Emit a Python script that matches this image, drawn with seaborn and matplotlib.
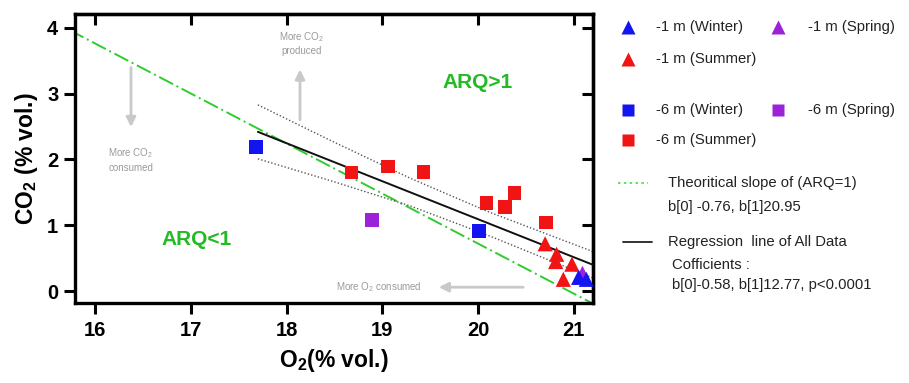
import numpy as np
import pandas as pd
import matplotlib
matplotlib.use("Agg")
import matplotlib.pyplot as plt
import seaborn as sns

# ---------------- data ----------------
sq_x = [17.68, 18.68, 19.06, 19.43, 18.89, 20.09, 20.28, 20.38, 20.01, 20.71]
sq_y = [2.19, 1.80, 1.89, 1.81, 1.08, 1.34, 1.28, 1.49, 0.91, 1.04]
sq_season = ["Winter", "Summer", "Summer", "Summer", "Spring", "Summer",
             "Summer", "Summer", "Winter", "Summer"]

tri_x = [20.70, 20.82, 20.81, 20.98, 20.89, 21.09, 21.05, 21.13]
tri_y = [0.72, 0.56, 0.45, 0.41, 0.18, 0.27, 0.21, 0.18]
tri_season = ["Summer", "Summer", "Summer", "Summer", "Summer",
              "Spring", "Winter", "Winter"]

# regression line and its confidence band
reg_x = [17.7, 21.2]
reg_y = [2.42, 0.40]
band_x = [17.7, 18.5, 19.3, 20.1, 21.2]
band_hi = [2.83, 2.26, 1.71, 1.21, 0.60]
band_lo = [2.01, 1.66, 1.29, 0.85, 0.20]

# theoretical ARQ = 1 line: CO2 = b0 * (O2 - b1)
theo_b0 = -0.76
theo_b1 = 20.95
theo_x = [15.5, 21.5]

season_colors = {"Winter": "#1414f0", "Summer": "#f01414", "Spring": "#9b22d8"}

x_ticks = [16, 17, 18, 19, 20, 21]
y_ticks = [0, 1, 2, 3, 4]

# ---------------- style ----------------
sns.set_style("white")
plt.rcParams["font.family"] = ["Liberation Sans", "DejaVu Sans"]
plt.rcParams["mathtext.fontset"] = "custom"
plt.rcParams["mathtext.rm"] = "Liberation Sans"
plt.rcParams["mathtext.bf"] = "Liberation Sans:bold"
plt.rcParams["mathtext.default"] = "regular"
plt.rcParams["text.color"] = "black"
plt.rcParams["axes.labelcolor"] = "black"
plt.rcParams["xtick.color"] = "black"
plt.rcParams["ytick.color"] = "black"

fig = plt.figure(figsize=(9.09, 3.83), dpi=100)
ax = fig.add_axes([75 / 909, 1 - 303 / 383, (593 - 75) / 909, (303 - 14) / 383])

df = pd.DataFrame({
    "O2": sq_x + tri_x,
    "CO2": sq_y + tri_y,
    "season": sq_season + tri_season,
    "depth": ["-6 m"] * len(sq_x) + ["-1 m"] * len(tri_x),
})

# theoretical line
tx = np.array(theo_x)
ax.plot(tx, theo_b0 * (tx - theo_b1), color="#2ecc2e", lw=1.4,
        ls=(0, (8, 2, 1, 2)), zorder=2)
# confidence band
ax.plot(band_x, band_hi, color="#555555", lw=1.0, ls=(0, (1, 1.5)), zorder=2)
ax.plot(band_x, band_lo, color="#555555", lw=1.0, ls=(0, (1, 1.5)), zorder=2)
# regression line
ax.plot(reg_x, reg_y, color="#111111", lw=1.4, zorder=3)

sns.scatterplot(data=df[df.depth == "-6 m"], x="O2", y="CO2", hue="season",
                palette=season_colors, marker="s", s=95, linewidth=0,
                legend=False, ax=ax, zorder=4)
sns.scatterplot(data=df[df.depth == "-1 m"], x="O2", y="CO2", hue="season",
                palette=season_colors, marker="^", s=120, linewidth=0,
                legend=False, ax=ax, zorder=5)

ax.set_xlim(15.79, 21.2)
ax.set_ylim(-0.18, 4.21)
ax.set_xticks(x_ticks)
ax.set_yticks(y_ticks)
ax.set_xticklabels([str(t) for t in x_ticks], fontsize=14.5, fontweight="bold")
ax.set_yticklabels([str(t) for t in y_ticks], fontsize=14.5, fontweight="bold")
ax.tick_params(axis="both", which="major", direction="out", length=8, width=2.2,
               color="black", bottom=True, left=True, top=False, right=False)
ax.tick_params(axis="x", pad=5)
ax.tick_params(axis="y", pad=4)
for sp in ax.spines.values():
    sp.set_visible(True)
    sp.set_color("black")
    sp.set_linewidth(2.4)

sec_x = ax.secondary_xaxis("top")
sec_x.set_xticks(x_ticks)
sec_x.tick_params(direction="in", length=8, width=2.2, labeltop=False, top=True)
sec_x.spines["top"].set_linewidth(2.4)
sec_y = ax.secondary_yaxis("right")
sec_y.set_yticks(y_ticks)
sec_y.tick_params(direction="in", length=8, width=2.2, labelright=False, right=True)
sec_y.spines["right"].set_linewidth(2.4)

ax.set_xlabel(r"$\mathbf{O_2}$(% vol.)", fontsize=16.5, fontweight="bold", labelpad=5)
ax.set_ylabel(r"$\mathbf{CO_2}$ (% vol.)", fontsize=16.5, fontweight="bold", labelpad=5)

# annotations
gray_txt = "#9a9a9a"
gray_arr = "#c9c9c9"
ax.text(20.0, 3.17, "ARQ>1", color="#22bb22", fontsize=15, fontweight="bold",
        ha="center", va="center")
ax.text(17.06, 0.78, "ARQ<1", color="#22bb22", fontsize=15, fontweight="bold",
        ha="center", va="center")
ax.text(18.16, 3.77, "More CO$_2$\nproduced", color=gray_txt, fontsize=7,
        ha="center", va="center", linespacing=1.3)
ax.annotate("", xy=(18.14, 3.41), xytext=(18.14, 2.56),
            arrowprops=dict(arrowstyle="-|>", color=gray_arr, lw=2, mutation_scale=14))
ax.text(16.375, 2.0, "More CO$_2$\nconsumed", color=gray_txt, fontsize=7,
        ha="center", va="center", linespacing=1.3)
ax.annotate("", xy=(16.375, 2.45), xytext=(16.375, 3.44),
            arrowprops=dict(arrowstyle="-|>", color=gray_arr, lw=2, mutation_scale=14))
ax.text(18.96, 0.06, "More O$_2$ consumed", color=gray_txt, fontsize=7,
        ha="center", va="center")
ax.annotate("", xy=(19.56, 0.06), xytext=(20.5, 0.06),
            arrowprops=dict(arrowstyle="-|>", color=gray_arr, lw=2, mutation_scale=14))

# ---------------- manual legend (pixel coordinates) ----------------
lg = fig.add_axes([0, 0, 1, 1])
lg.set_xlim(0, 909)
lg.set_ylim(383, 0)
lg.axis("off")
lg.patch.set_alpha(0)
fs = 10.7
tc = "#222222"
items = [
    ("^", "Winter", 628, 27, "-1 m (Winter)", 656),
    ("^", "Spring", 778, 27, "-1 m (Spring)", 808),
    ("^", "Summer", 628, 59, "-1 m (Summer)", 656),
    ("s", "Winter", 628, 110, "-6 m (Winter)", 656),
    ("s", "Spring", 778, 110, "-6 m (Spring)", 808),
    ("s", "Summer", 628, 140, "-6 m (Summer)", 656),
]
for m, season, mx, my, label, tx_ in items:
    lg.plot([mx], [my], marker=m, ms=9.5 if m == "^" else 9, ls="none",
            color=season_colors[season], mec="none")
    lg.text(tx_, my, label, fontsize=fs, color=tc, va="center", ha="left")

lg.plot([618, 648], [183, 183], color="#44dd44", lw=1.2, ls=(0, (1.5, 2)))
lg.text(668, 183, "Theoritical slope of (ARQ=1)", fontsize=fs, color=tc, va="center")
lg.text(668, 207, "b[0] -0.76, b[1]20.95", fontsize=fs, color=tc, va="center")
lg.plot([623, 652], [242, 242], color="#222222", lw=1.3)
lg.text(668, 242, "Regression  line of All Data", fontsize=fs, color=tc, va="center")
lg.text(672, 265, "Cofficients :", fontsize=fs, color=tc, va="center")
lg.text(672, 285, "b[0]-0.58, b[1]12.77, p<0.0001", fontsize=fs, color=tc, va="center")

fig.savefig("out.png", dpi=100)
